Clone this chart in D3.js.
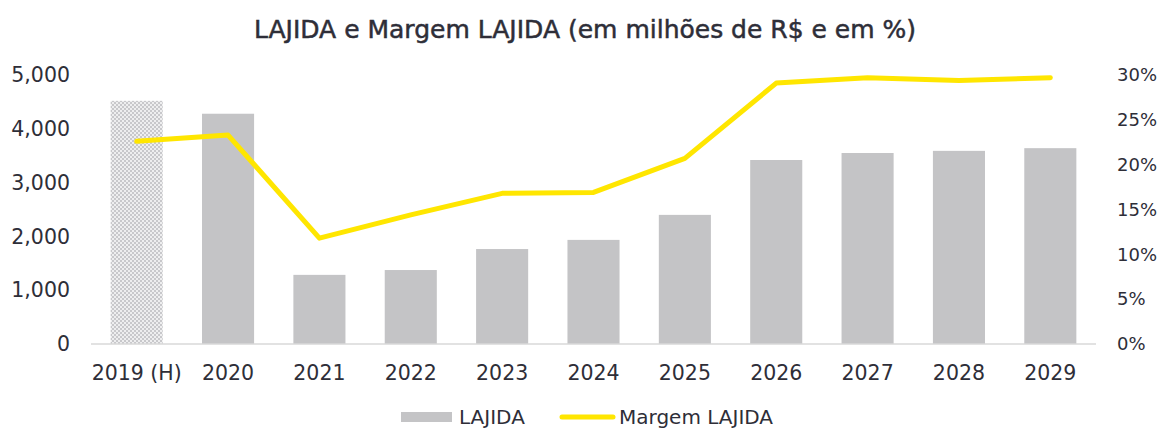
<!DOCTYPE html>
<html>
<head>
<meta charset="utf-8">
<script src="https://cdn.jsdelivr.net/npm/d3@7"></script>
<style>
  body { margin: 0; background: #fff; }
  text { font-family: "DejaVu Sans", sans-serif; fill: #2e2e38; }
</style>
</head>
<body>
<div id="chart"></div>
<script>
// Data
const categories = ["2019 (H)", "2020", "2021", "2022", "2023", "2024", "2025", "2026", "2027", "2028", "2029"];
const lajida = [4520, 4280, 1285, 1375, 1765, 1935, 2400, 3420, 3550, 3590, 3640];
const margem = [22.6, 23.3, 11.8, 14.4, 16.8, 16.9, 20.7, 29.1, 29.7, 29.4, 29.7];
const leftTicks = [0, 1000, 2000, 3000, 4000, 5000];
const rightTicks = [0, 5, 10, 15, 20, 25, 30];

const width = 1158;
const height = 431;
const margin = { top: 75, right: 62, bottom: 87, left: 91 };

const svg = d3.select("#chart")
  .append("svg")
  .attr("width", width)
  .attr("height", height);

// checkered pattern for the historic bar
const defs = svg.append("defs");
const pat = defs.append("pattern")
  .attr("id", "hatch")
  .attr("width", 4)
  .attr("height", 4)
  .attr("patternUnits", "userSpaceOnUse");
pat.append("rect").attr("width", 4).attr("height", 4).attr("fill", "#eeeeef");
pat.append("rect").attr("width", 2).attr("height", 2).attr("fill", "#c8c8cb");
pat.append("rect").attr("x", 2).attr("y", 2).attr("width", 2).attr("height", 2).attr("fill", "#c8c8cb");

const x = d3.scaleBand()
  .domain(categories)
  .range([margin.left, width - margin.right])
  .paddingInner(0.43)
  .paddingOuter(0.215);

const y = d3.scaleLinear()
  .domain([0, 5000])
  .range([height - margin.bottom, margin.top]);

const y2 = d3.scaleLinear()
  .domain([0, 30])
  .range([height - margin.bottom, margin.top]);

// title
svg.append("text")
  .attr("x", 585)
  .attr("y", 38)
  .attr("text-anchor", "middle")
  .style("font-size", "25px")
  .style("stroke", "#2e2e38")
  .style("stroke-width", 0.5)
  .text("LAJIDA e Margem LAJIDA (em milhões de R$ e em %)");

// bars
svg.selectAll("rect.bar")
  .data(lajida)
  .enter().append("rect")
  .attr("class", "bar")
  .attr("x", (d, i) => x(categories[i]))
  .attr("width", x.bandwidth())
  .attr("y", d => y(d))
  .attr("height", d => y(0) - y(d))
  .attr("fill", (d, i) => i === 0 ? "url(#hatch)" : "#c4c4c6");

// baseline
svg.append("line")
  .attr("x1", margin.left)
  .attr("x2", width - margin.right)
  .attr("y1", y(0))
  .attr("y2", y(0))
  .attr("stroke", "#d9d9d9")
  .attr("stroke-width", 1.5);

// left axis labels
svg.selectAll("text.yl")
  .data(leftTicks)
  .enter().append("text")
  .attr("class", "yl")
  .attr("x", 70)
  .attr("y", d => y(d))
  .attr("dy", "0.35em")
  .attr("text-anchor", "end")
  .style("font-size", "20.5px")
  .text(d => d3.format(",")(d));

// right axis labels
svg.selectAll("text.yr")
  .data(rightTicks)
  .enter().append("text")
  .attr("class", "yr")
  .attr("x", 1117)
  .attr("y", d => y2(d))
  .attr("dy", "0.35em")
  .attr("text-anchor", "start")
  .style("font-size", "18px")
  .text(d => d + "%");

// x labels
svg.selectAll("text.xl")
  .data(categories)
  .enter().append("text")
  .attr("class", "xl")
  .attr("x", d => x(d) + x.bandwidth() / 2)
  .attr("y", 380)
  .attr("text-anchor", "middle")
  .style("font-size", "20.5px")
  .text(d => d);

// margin line
const line = d3.line()
  .x((d, i) => x(categories[i]) + x.bandwidth() / 2)
  .y(d => y2(d));

svg.append("path")
  .datum(margem)
  .attr("d", line)
  .attr("fill", "none")
  .attr("stroke", "#ffe600")
  .attr("stroke-width", 5)
  .attr("stroke-linecap", "round")
  .attr("stroke-linejoin", "round");

// legend
const legend = svg.append("g");
legend.append("rect")
  .attr("x", 401).attr("y", 412)
  .attr("width", 51).attr("height", 10)
  .attr("fill", "#c4c4c6");
legend.append("text")
  .attr("x", 459).attr("y", 424)
  .style("font-size", "20px")
  .text("LAJIDA");
legend.append("line")
  .attr("x1", 562).attr("x2", 613)
  .attr("y1", 417).attr("y2", 417)
  .attr("stroke", "#ffe600")
  .attr("stroke-width", 5)
  .attr("stroke-linecap", "round");
legend.append("text")
  .attr("x", 619).attr("y", 424)
  .style("font-size", "20px")
  .text("Margem LAJIDA");
</script>
</body>
</html>
